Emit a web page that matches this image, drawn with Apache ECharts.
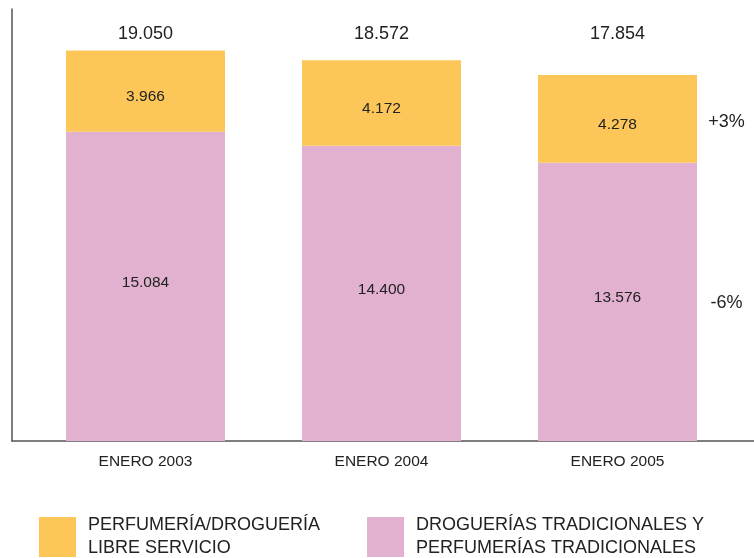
<!DOCTYPE html>
<html>
<head>
<meta charset="utf-8">
<script src="https://cdn.jsdelivr.net/npm/echarts@6/dist/echarts.min.js"></script>
<style>
html,body{margin:0;padding:0;background:#fff;}
#chart{width:754px;height:558px;}
</style>
</head>
<body>
<div id="chart"></div>
<script>
// Data
var categories = ['ENERO 2003', 'ENERO 2004', 'ENERO 2005'];
var tradicionales = [15084, 14400, 13576];
var libreServicio = [3966, 4172, 4278];
var totals = [19050, 18572, 17854];
var changes = ['+3%', '-6%']; // libre servicio, tradicionales (2004 -> 2005)
var legendLabels = ['PERFUMERÍA/DROGUERÍA\nLIBRE SERVICIO', 'DROGUERÍAS TRADICIONALES Y\nPERFUMERÍAS TRADICIONALES'];
var seriesNames = ['Libre servicio', 'Tradicionales'];

var YELLOW = '#fcc758';
var PINK = '#e2b1d0';
var TEXT = '#222222';
var FONT = '"Liberation Sans", Arial, Helvetica, sans-serif';

function fmt(v) {
  return String(v).replace(/\B(?=(\d{3})+(?!\d))/g, '.');
}

var last = categories.length - 1;
var chart = echarts.init(document.getElementById('chart'));
chart.setOption({
  animation: false,
  backgroundColor: '#fff',
  legend: {
    left: 34,
    top: 506,
    itemWidth: 37,
    itemHeight: 40,
    itemGap: 47,
    icon: 'rect',
    data: [seriesNames[0], seriesNames[1]],
    formatter: function (name) { return legendLabels[seriesNames.indexOf(name)]; },
    textStyle: { color: TEXT, fontSize: 18, fontFamily: FONT, lineHeight: 23, padding: [6, 0, 0, 7] },
    selectedMode: false
  },
  grid: [
    { left: 27.5, right: 18.5, top: 9, bottom: 117 },
    { left: 12, right: 0, top: 9, bottom: 117 }
  ],
  xAxis: [
    {
      type: 'category', gridIndex: 0, data: categories,
      axisLine: { show: false }, axisTick: { show: false },
      axisLabel: { color: TEXT, fontSize: 15.5, fontFamily: FONT, margin: 13 }
    },
    {
      type: 'value', gridIndex: 1, min: 0, max: 1,
      axisLine: { show: true, lineStyle: { color: '#555', width: 1.5 } },
      axisTick: { show: false }, axisLabel: { show: false }, splitLine: { show: false }
    },
    {
      type: 'category', gridIndex: 0, data: categories, position: 'top',
      axisLine: { show: false }, axisTick: { show: false },
      axisLabel: {
        inside: true, margin: 16, color: TEXT, fontSize: 18, fontFamily: FONT,
        formatter: function (v, i) { return fmt(totals[i]); }
      }
    }
  ],
  yAxis: [
    {
      type: 'value', gridIndex: 0, min: 0, max: 21073,
      axisLine: { show: false }, axisTick: { show: false },
      axisLabel: { show: false }, splitLine: { show: false }
    },
    {
      type: 'value', gridIndex: 1, min: 0, max: 1,
      axisLine: { show: true, lineStyle: { color: '#555', width: 1.5 } },
      axisTick: { show: false }, axisLabel: { show: false }, splitLine: { show: false }
    }
  ],
  series: [
    {
      name: seriesNames[1], type: 'bar', stack: 'total', barWidth: 159, z: 3,
      data: tradicionales,
      itemStyle: { color: PINK },
      label: {
        show: true, position: 'inside', offset: [0, -4],
        color: TEXT, fontSize: 15.5, fontFamily: FONT,
        formatter: function (p) { return fmt(p.value); }
      },
      markPoint: {
        symbol: 'circle', symbolSize: 0, silent: true,
        label: { show: true, position: 'inside', offset: [109, 1], color: TEXT, fontSize: 18, fontFamily: FONT,
          formatter: function () { return changes[1]; } },
        data: [{ coord: [last, tradicionales[last] / 2] }]
      }
    },
    {
      name: seriesNames[0], type: 'bar', stack: 'total', barWidth: 159, z: 3,
      data: libreServicio,
      itemStyle: { color: YELLOW },
      label: {
        show: true, position: 'inside', offset: [0, 6],
        color: TEXT, fontSize: 15.5, fontFamily: FONT,
        formatter: function (p) { return fmt(p.value); }
      },
      markPoint: {
        symbol: 'circle', symbolSize: 0, silent: true,
        label: { show: true, position: 'inside', offset: [109, 3], color: TEXT, fontSize: 18, fontFamily: FONT,
          formatter: function () { return changes[0]; } },
        data: [{ coord: [last, tradicionales[last] + libreServicio[last] / 2] }]
      }
    }
  ]
});
</script>
</body>
</html>
